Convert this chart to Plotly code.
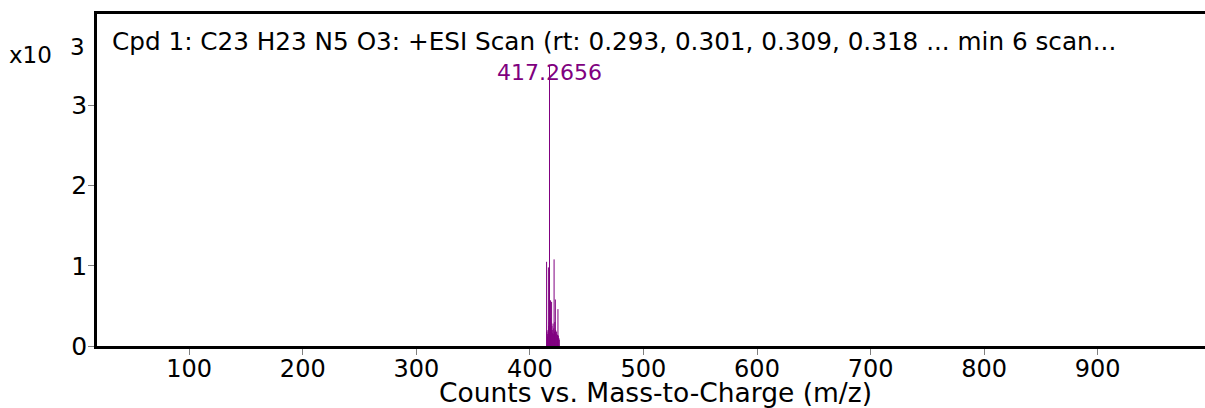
import plotly.graph_objects as go

# Data (m/z, counts)
mz_values = [414.7, 415.0, 415.4, 415.7, 416.0, 416.3, 416.6, 417.0, 417.2656, 417.6,
             417.9, 418.2, 418.5, 418.8, 419.1, 419.4, 419.7, 420.0, 420.4, 420.7,
             421.0, 421.3, 421.7, 422.0, 422.4, 422.7, 423.1, 423.5, 423.9, 424.3,
             424.7, 425.1, 425.5, 425.9]
counts = [1050, 180, 120, 150, 200, 980, 250, 300, 3500, 220,
          350, 570, 300, 180, 550, 250, 200, 160, 280, 150,
          220, 1080, 180, 300, 580, 200, 150, 180, 120, 140,
          460, 130, 100, 80]
x_ticks = [100, 200, 300, 400, 500, 600, 700, 800, 900]
y_ticks = [0, 1, 2, 3]
peak_label_mz = 417.2656
title_text = "Cpd 1: C23 H23 N5 O3: +ESI Scan (rt: 0.293, 0.301, 0.309, 0.318 ... min 6 scan..."
x_title = "Counts vs. Mass-to-Charge (m/z)"

FONT = "DejaVu Sans"
PURPLE = "#800080"

sx, sy = [], []
for m, c in zip(mz_values, counts):
    sx += [m, m, None]
    sy += [0, c / 1000.0, None]

fig = go.Figure()
fig.add_trace(go.Scatter(x=sx, y=sy, mode="lines",
                         line=dict(color=PURPLE, width=1),
                         hoverinfo="skip", showlegend=False))

peak_idx = mz_values.index(peak_label_mz)
fig.add_annotation(x=peak_label_mz, y=counts[peak_idx] / 1000.0, xref="x", yref="y",
                   text=f"{peak_label_mz:.4f}", showarrow=False,
                   yanchor="middle", yshift=-7,
                   font=dict(family=FONT, size=22, color=PURPLE))

fig.add_annotation(x=(110 - 97) / 1108, y=1 - (41 - 14) / 332, xref="paper", yref="paper",
                   text=title_text, showarrow=False, xanchor="left", yanchor="middle",
                   font=dict(family=FONT, size=24.7, color="black"))

fig.add_annotation(x=(655 - 97) / 1108, y=-(392 - 346) / 332, xref="paper", yref="paper",
                   text=x_title, showarrow=False, xanchor="center", yanchor="middle",
                   font=dict(family=FONT, size=26.5, color="black"))

fig.add_annotation(x=-(97 - 54) / 1108, y=1 - (55 - 14) / 332, xref="paper", yref="paper",
                   text="x10", showarrow=False, xanchor="right", yanchor="middle",
                   font=dict(family=FONT, size=23, color="black"))
fig.add_annotation(x=-(97 - 87) / 1108, y=1 - (47 - 14) / 332, xref="paper", yref="paper",
                   text="3", showarrow=False, xanchor="right", yanchor="middle",
                   font=dict(family=FONT, size=23, color="black"))

fig.update_layout(
    width=1205, height=408,
    margin=dict(l=97, r=0, t=14, b=62),
    paper_bgcolor="white", plot_bgcolor="white",
    showlegend=False,
    xaxis=dict(range=[18.8, 994.5], tickvals=x_ticks, ticks="outside", ticklen=6,
               tickcolor="#808080", tickwidth=1, showgrid=False, zeroline=False,
               showline=True, linecolor="black", linewidth=2.5, mirror=True,
               ticklabelstandoff=-7,
               tickfont=dict(family=FONT, size=24, color="black")),
    yaxis=dict(range=[0, 4.14], tickvals=y_ticks, ticks="outside", ticklen=6,
               tickcolor="#808080", tickwidth=1, showgrid=False, zeroline=False,
               showline=True, linecolor="black", linewidth=2.5,
               ticklabelstandoff=-4,
               tickfont=dict(family=FONT, size=25, color="black")),
)

fig.write_html("out.html")
